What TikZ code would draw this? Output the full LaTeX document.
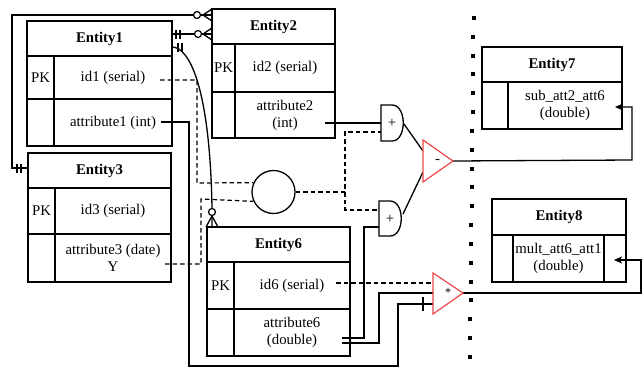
\documentclass[tikz,border=0pt]{standalone}
\usepackage{fontspec}
\setmainfont{Liberation Serif}
\newfontfamily\timesf{Liberation Serif}
\usetikzlibrary{arrows.meta}
\definecolor{opred}{RGB}{240,72,72}
\begin{document}
\begin{tikzpicture}[x=1pt,y=-1pt,
  font=\timesf\fontsize{14.8}{17}\selectfont,
  cell/.style={draw, rectangle, inner sep=0pt, align=center, line width=1.3pt},
  ttl/.style={cell, font=\timesf\fontsize{14.8}{17}\selectfont\bfseries},
  conn/.style={line width=1.3pt},
  dconn/.style={line width=1.2pt, dash pattern=on 4.5pt off 3pt},
  opnd/.style={draw=opred, fill=white, line width=1.2pt, line join=miter},
  gate/.style={draw, fill=white, line width=1.3pt},
  zcirc/.style={draw, fill=white, line width=1.2pt},
  arr/.style={-{Stealth[length=8pt,width=7pt,inset=2pt]}},
  lbl/.style={inner sep=0pt}
]
\useasboundingbox (0,0) rectangle (644,367);

% ---------------- Entity1
\node[ttl, minimum width=145pt, minimum height=35pt] (e1h) at (99.5,38.5) {Entity1};
\node[cell, minimum width=27pt, minimum height=43pt] (e1pk) at (40.5,77.5) {PK};
\node[cell, minimum width=118pt, minimum height=43pt] (e1id) at (113,77.5) {id1 (serial)};
\node[cell, minimum width=27pt, minimum height=47pt] (e1k) at (40.5,122.5) {};
\node[cell, minimum width=118pt, minimum height=47pt] (e1a) at (113,122.5) {attribute1 (int)};

% ---------------- Entity2
\node[ttl, minimum width=123pt, minimum height=35pt] (e2h) at (273.5,26.5) {Entity2};
\node[cell, minimum width=23pt, minimum height=48pt] (e2pk) at (223.5,68) {PK};
\node[cell, minimum width=100pt, minimum height=48pt] (e2id) at (285,68) {id2 (serial)};
\node[cell, minimum width=23pt, minimum height=46pt] (e2k) at (223.5,115) {};
\node[cell, minimum width=100pt, minimum height=46pt] (e2a) at (285,115) {attribute2\\(int)};

% ---------------- Entity3
\node[ttl, minimum width=143pt, minimum height=35pt] (e3h) at (99.5,170.5) {Entity3};
\node[cell, minimum width=27pt, minimum height=46pt] (e3pk) at (41.5,211) {PK};
\node[cell, minimum width=116pt, minimum height=46pt] (e3id) at (113,211) {id3 (serial)};
\node[cell, minimum width=27pt, minimum height=48pt] (e3k) at (41.5,258) {};
\node[cell, minimum width=116pt, minimum height=48pt] (e3a) at (113,258) {attribute3 (date)\\Y};

% ---------------- Entity6
\node[ttl, minimum width=143pt, minimum height=35pt] (e6h) at (278.5,244.5) {Entity6};
\node[cell, minimum width=27pt, minimum height=47pt] (e6pk) at (220.5,285.5) {PK};
\node[cell, minimum width=116pt, minimum height=47pt] (e6id) at (292,285.5) {id6 (serial)};
\node[cell, minimum width=27pt, minimum height=47pt] (e6k) at (220.5,332.5) {};
\node[cell, minimum width=116pt, minimum height=47pt] (e6a) at (292,332.5) {attribute6\\(double)};

% ---------------- Entity7
\node[ttl, minimum width=140pt, minimum height=35pt] (e7h) at (552,64.5) {Entity7};
\node[cell, minimum width=26pt, minimum height=47pt] (e7k) at (495,105.5) {};
\node[cell, minimum width=114pt, minimum height=47pt] (e7a) at (565,105.5) {sub\_att2\_att6\\(double)};

% ---------------- Entity8
\node[ttl, minimum width=134pt, minimum height=36pt] (e8h) at (559,217) {Entity8};
\node[cell, minimum width=21pt, minimum height=47pt] (e8k1) at (502.5,258.5) {};
\node[cell, minimum width=91pt, minimum height=47pt] (e8a) at (558.5,258.5) {mult\_att6\_att1\\(double)};
\node[cell, minimum width=22pt, minimum height=47pt] (e8k2) at (615,258.5) {};

% ---------------- dotted separator
\foreach \i in {0,...,18} {
  \fill ({473.5-3.5*\i/18-2}, {18+\i*18.83-2}) rectangle +(4,4);
}

% ---------------- circle
\node[draw, circle, line width=1.3pt, minimum size=43pt, inner sep=0pt] (circ) at (273.5,192) {};

% ---------------- ports
\coordinate (e3L) at (28,168);
\coordinate (e2T) at (212,15);
\coordinate (e1T) at (172,34);
\coordinate (e2M) at (212,34);
\coordinate (e1C) at (172,47);
\coordinate (e6T) at (212,227);
\coordinate (e1idR) at (160,80);
\coordinate (e1aR) at (161,122);
\coordinate (e3aR) at (165,264);
\coordinate (e2aR) at (325,123);
\coordinate (e6idR) at (336,283);
\coordinate (e6aR1) at (342,338);
\coordinate (e6aR2) at (342,343);
\coordinate (g1i1) at (381,123);
\coordinate (g1i2) at (381,132);
\coordinate (g1o) at (404,124);
\coordinate (g2i1) at (379,210);
\coordinate (g2i2) at (379,227);
\coordinate (g2o) at (403,214);
\coordinate (t1i1) at (423,151);
\coordinate (t1i2) at (423,172);
\coordinate (t1o) at (453,161);
\coordinate (t2i1) at (433,283);
\coordinate (t2i2) at (433,293);
\coordinate (t2i3) at (433,304);
\coordinate (t2o) at (463,293);
\coordinate (e7in) at (615,107);
\coordinate (e8in) at (614,260);

% ---------------- ER relationships
\draw[conn] (e3L) -- (12,168) -- (12,15) -- (e2T);
\draw[conn] (17,163.5) -- (17,172.5) (21,163.5) -- (21,172.5);
\draw[conn] (203,15) -- (212,9) (203,15) -- (212,21);
\draw[zcirc] (197,15) circle (3.5);

\draw[conn] (e1T) -- (e2M);
\draw[conn] (176,29.5) -- (176,38.5) (180,29.5) -- (180,38.5);
\draw[conn] (203,34) -- (212,28) (203,34) -- (212,40);
\draw[zcirc] (198,34) circle (3.5);

\draw[conn] (e1C) .. controls (190,47) and (210,90) .. (212,208) -- (e6T);
\draw[conn] (178,42.5) -- (178,51.5) (182,42.5) -- (182,51.5);
\draw[conn] (212,216) -- (206,227) (212,216) -- (218,227);
\draw[zcirc] (212,212) circle (3.5);

% ---------------- data flow
\draw[dconn] (e1idR) -- (197,80) -- (197,183) -- (circ.155);
\draw[dconn] (e3aR) -- (201,264) -- (201,199) -- (circ.205);
\draw[dconn] (circ.east) -- (345,192) -- (345,132) -- (g1i2);
\draw[dconn] (345,192) -- (345,210) -- (g2i1);
\draw[conn] (e2aR) -- (g1i1);
\draw[conn] (e6aR1) -- (364,338) -- (364,227) -- (g2i2);
\draw[conn] (e6aR2) -- (379,343) -- (379,293) -- (t2i2);
\draw[dconn] (e6idR) -- (t2i1);
\draw[conn] (e1aR) -- (189,122) -- (189,366) -- (398,366) -- (398,304) -- (t2i3);
\draw[conn] (423,297) -- (423,311);
\draw[conn] (g1o) -- (t1i1);
\draw[conn] (g2o) -- (t1i2);
\draw[conn, arr] (t1o) -- (632,160) -- (632,107) -- (e7in);
\draw[conn, arr] (t2o) -- (641,293) -- (641,260) -- (e8in);

% ---------------- gates
\draw[gate] (381,105) -- (392,105) .. controls (407,105) and (407,141) .. (392,141) -- (381,141) -- cycle;
\node[lbl] (g1l) at (392,123) {+};
\draw[gate] (379,201) -- (390,201) .. controls (405,201) and (405,236) .. (390,236) -- (379,236) -- cycle;
\node[lbl] (g2l) at (390,219) {+};

% ---------------- operators
\draw[opnd] (423,140) -- (t1o) -- (423,182) -- cycle;
\node[lbl] (t1l) at (437.5,161) {-};
\draw[opnd] (433,273) -- (t2o) -- (433,314) -- cycle;
\node[lbl, font=\timesf\fontsize{12}{14}\selectfont] (t2l) at (448,292.5) {*};
\end{tikzpicture}
\end{document}
